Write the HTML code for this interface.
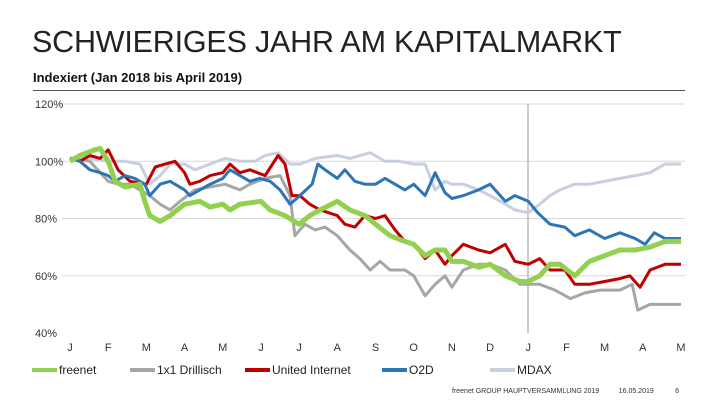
<!DOCTYPE html>
<html><head><meta charset="utf-8"><style>
html,body{margin:0;padding:0;background:#fff;}
body{width:720px;height:405px;position:relative;overflow:hidden;font-family:"Liberation Sans",sans-serif;}
#title{position:absolute;left:32px;top:25px;font-size:30.5px;color:#222;letter-spacing:-0.2px;}
#sub{position:absolute;left:33px;top:70px;font-size:13px;font-weight:bold;color:#111;}
#rule{position:absolute;left:33px;top:90px;width:652px;height:1px;background:#555;}
#foot{position:absolute;left:452px;top:388px;font-size:7px;color:#333;}
svg{position:absolute;left:0;top:0;}
</style></head><body>
<div id="title">SCHWIERIGES JAHR AM KAPITALMARKT</div>
<div id="sub">Indexiert (Jan 2018 bis April 2019)</div>
<div id="rule"></div>
<svg id="chart" width="720" height="405"></svg>
<div id="foot">freenet GROUP HAUPTVERSAMMLUNG 2019 &nbsp;&nbsp;&nbsp;&nbsp;&nbsp;&nbsp;&nbsp;&nbsp; 16.05.2019 &nbsp;&nbsp;&nbsp;&nbsp;&nbsp;&nbsp;&nbsp;&nbsp;&nbsp; 6</div>
<script>
const monthLabels=["J","F","M","A","M","J","J","A","S","O","N","D","J","F","M","A","M"];
const yTicks=[40,60,80,100,120];
const seriesNames=["freenet","1x1 Drillisch","United Internet","O2D","MDAX"];
const mdaxM=[0,0.52,1,1.44,1.83,2.09,2.36,2.62,3,3.27,3.67,4.06,4.45,4.84,5.11,5.45,5.76,6.02,6.42,7,7.33,7.86,8.25,8.64,9,9.3,9.56,9.82,10,10.3,10.7,11,11.4,11.65,12,12.3,12.57,12.83,13.22,13.6,14,14.4,14.8,15.19,15.58,16];
const mdaxV=[101,101,100,100,99,92,95,99,99,97,99,101,100,100,102,103,99,99,101,102,101,103,100,100,99,99,90,93,92,92,90,88,85,83,82,85,88,90,92,92,93,94,95,96,99,99];
const o2dM=[0,0.26,0.52,0.79,1,1.18,1.44,1.7,1.96,2.09,2.36,2.62,3,3.14,3.4,3.67,4,4.19,4.45,4.71,4.97,5.24,5.5,5.76,6.02,6.34,6.49,6.68,7,7.2,7.46,7.72,8,8.25,8.51,8.77,9,9.3,9.56,9.82,10,10.3,10.7,11,11.4,11.65,12,12.25,12.57,12.96,13.22,13.6,14,14.4,14.8,15.06,15.3,15.58,16];
const o2dV=[101,100,97,96,95,93,95,94,92,88,92,93,90,88,90,92,94,97,95,93,94,93,90,85,88,92,99,97,94,97,93,92,92,94,92,90,92,88,96,89,87,88,90,92,86,88,86,82,78,77,74,76,73,75,73,71,75,73,73];
const drilM=[0,0.52,1,1.26,1.57,1.83,2.09,2.36,2.62,2.88,3.27,3.67,4.06,4.45,4.71,5.11,5.5,5.76,5.89,6.15,6.42,6.68,7,7.33,7.59,7.86,8.12,8.38,8.77,9,9.3,9.56,9.82,10,10.3,10.7,11,11.4,11.78,12,12.3,12.7,13.1,13.48,13.88,14.4,14.72,14.87,15.19,15.58,16];
const drilV=[101,100,93,92,92,90,88,85,83,86,90,91,92,90,92,94,95,88,74,78,76,77,74,69,66,62,65,62,62,60,53,57,60,56,62,64,64,62,57,57,57,55,52,54,55,55,57,48,50,50,50];
const uiM=[0,0.26,0.52,0.79,1,1.26,1.57,2,2.23,2.49,2.75,3,3.14,3.4,3.67,4,4.19,4.45,4.71,5.11,5.45,5.63,5.81,6.02,6.28,6.55,7,7.2,7.46,7.72,8,8.25,8.51,8.77,9,9.3,9.56,9.82,10,10.3,10.7,11,11.4,11.65,12,12.3,12.57,12.96,13.22,13.6,14,14.4,14.66,14.93,15.19,15.58,16];
const uiV=[101,100,102,101,104,97,93,92,98,99,100,96,92,93,95,96,99,96,97,95,102,99,88,88,85,83,81,78,77,81,80,81,76,72,71,66,69,64,67,71,69,68,71,65,64,66,62,62,57,57,58,59,60,56,62,64,64];
const frM=[0,0.26,0.65,0.79,1,1.18,1.44,1.83,1.96,2.09,2.36,2.62,3,3.4,3.67,4,4.19,4.45,5,5.24,5.63,6,6.28,6.55,7,7.33,7.72,8,8.38,8.77,9,9.3,9.56,9.82,10,10.3,10.7,11,11.4,11.78,12,12.3,12.57,12.83,13.22,13.6,14,14.4,14.8,15.19,15.58,16];
const frV=[100,102,104,104.5,100,93,91,92,86,81,79,81,85,86,84,85,83,85,86,83,81,78,81,83,86,83,81,78,74,72,71,67,69,69,65,65,63,64,60,58,58,60,64,64,60,65,67,69,69,70,72,72];

const X0=70,X1=681,YT=104,YB=333;
const xs=m=>X0+(X1-X0)*m/16;
const ys=v=>YB-(YB-YT)*(v-40)/80;
const svg=document.getElementById('chart');
const NS="http://www.w3.org/2000/svg";
function mk(t,a){const e=document.createElementNS(NS,t);for(const k in a)e.setAttribute(k,a[k]);svg.appendChild(e);return e;}
yTicks.forEach(t=>{
  if(t>40){const g=mk('line',{x1:62,x2:685,y1:ys(t),y2:ys(t),stroke:'#d9d9d9','stroke-width':1});
  
  }
  const l=mk('text',{x:35,y:ys(t)+4,'font-size':11,fill:'#333','font-family':'Liberation Sans'});
  l.textContent=t+'%';
  
  
});
monthLabels.forEach((m,i)=>{
  const l=mk('text',{x:xs(i),y:351,'font-size':11,fill:'#333','text-anchor':'middle','font-family':'Liberation Sans'});
  l.textContent=m;
  
  
});
const vl=mk('line',{x1:528,x2:528,y1:YT,y2:YB,stroke:'#999','stroke-width':1});


const series=[[mdaxM,mdaxV,'#c8d0e0',3,'series-mdax'],[drilM,drilV,'#a6a6a6',3,'series-drillisch'],[uiM,uiV,'#c00000',3,'series-united-internet'],[o2dM,o2dV,'#2e75b6',3,'series-o2d'],[frM,frV,'#92d050',5,'series-freenet']];
series.forEach(s=>{
  const d=s[0].map((m,i)=>(i?'L':'M')+xs(m).toFixed(1)+','+ys(s[1][i]).toFixed(1)).join('');
  const p=mk('path',{d:d,fill:'none',stroke:s[2],'stroke-width':s[3],'stroke-linejoin':'round'});
  
  
});
const legCols=['#92d050','#a6a6a6','#c00000','#2e75b6','#c8d0e0'];
const legX=[32,130,245,382,490];
seriesNames.forEach((n,i)=>{
  const ln=mk('line',{x1:legX[i],x2:legX[i]+25,y1:370,y2:370,stroke:legCols[i],'stroke-width':4});
  
  
  const t=mk('text',{x:legX[i]+27,y:374,'font-size':12,fill:'#222','font-family':'Liberation Sans'});
  t.textContent=n;
  
  
});
</script>
</body></html>
